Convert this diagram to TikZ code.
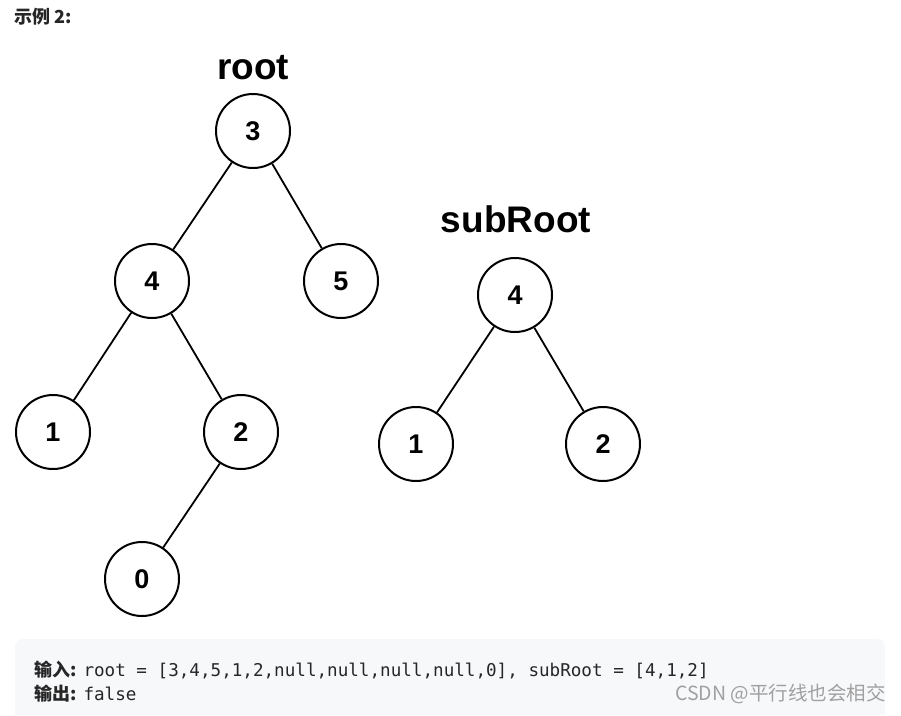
\documentclass[tikz,border=0pt]{standalone}
\usepackage{fontspec}
\setmainfont{Liberation Sans}
\setmonofont{DejaVu Sans Mono}
\newfontfamily\cjk{Noto Sans CJK SC}
\definecolor{codebg}{HTML}{F7F8FA}
\definecolor{wm}{HTML}{A0A0A0}
\definecolor{txt}{HTML}{262626}
\begin{document}
\begin{tikzpicture}[x=1pt,y=-1pt,
  tn/.style={circle,draw=black,line width=2pt,minimum size=74pt,inner sep=0pt,font=\fontsize{27}{27}\selectfont\bfseries,fill=white},
  edge/.style={line width=1.8pt},
  lbl/.style={font=\fontsize{37}{37}\selectfont\bfseries,inner sep=0pt}]
\useasboundingbox (0,0) rectangle (901,715);
\fill[white] (0,0) rectangle (901,715);
% title
\node[anchor=west,inner sep=0pt,text=txt] (title) at (14,17) {\fontsize{18}{18}\selectfont\cjk\bfseries 示例 2:};
% code box
\fill[codebg] (15,715) -- (15,647) arc[start angle=180,end angle=270,radius=8] -- (877,639) arc[start angle=270,end angle=360,radius=8] -- (885,715) -- cycle;
% labels
\node[lbl] (rootlbl) at (253,68) {root};
\node[lbl] (sublbl) at (516,219) {subRoot};
% tree 1
\node[tn] (n3) at (253,131) {3};
\node[tn] (n4) at (152,281) {4};
\node[tn] (n5) at (341,281) {5};
\node[tn] (n1) at (53,432) {1};
\node[tn] (n2) at (241,432) {2};
\node[tn] (n0) at (142,579) {0};
\draw[edge] (n3) -- (n4);
\draw[edge] (n3) -- (n5);
\draw[edge] (n4) -- (n1);
\draw[edge] (n4) -- (n2);
\draw[edge] (n2) -- (n0);
% tree 2
\node[tn] (s4) at (515,295) {4};
\node[tn] (s1) at (416,444) {1};
\node[tn] (s2) at (603,444) {2};
\draw[edge] (s4) -- (s1);
\draw[edge] (s4) -- (s2);
% code text
\node[anchor=west,inner sep=0pt,text=txt] (in) at (34,670) {{\fontsize{18}{18}\selectfont\cjk\bfseries 输入:}\hspace{7pt}\fontsize{17.6}{17.6}\selectfont\ttfamily root = [3,4,5,1,2,null,null,null,null,0], subRoot = [4,1,2]};
\node[anchor=west,inner sep=0pt,text=txt] (out) at (34,694) {{\fontsize{18}{18}\selectfont\cjk\bfseries 输出:}\hspace{7pt}\fontsize{17.6}{17.6}\selectfont\ttfamily false};
\node[anchor=east,inner sep=0pt,text=wm] (wmk) at (886,694) {\fontsize{19.5}{19.5}\selectfont\cjk CSDN @平行线也会相交};
\end{tikzpicture}
\end{document}
